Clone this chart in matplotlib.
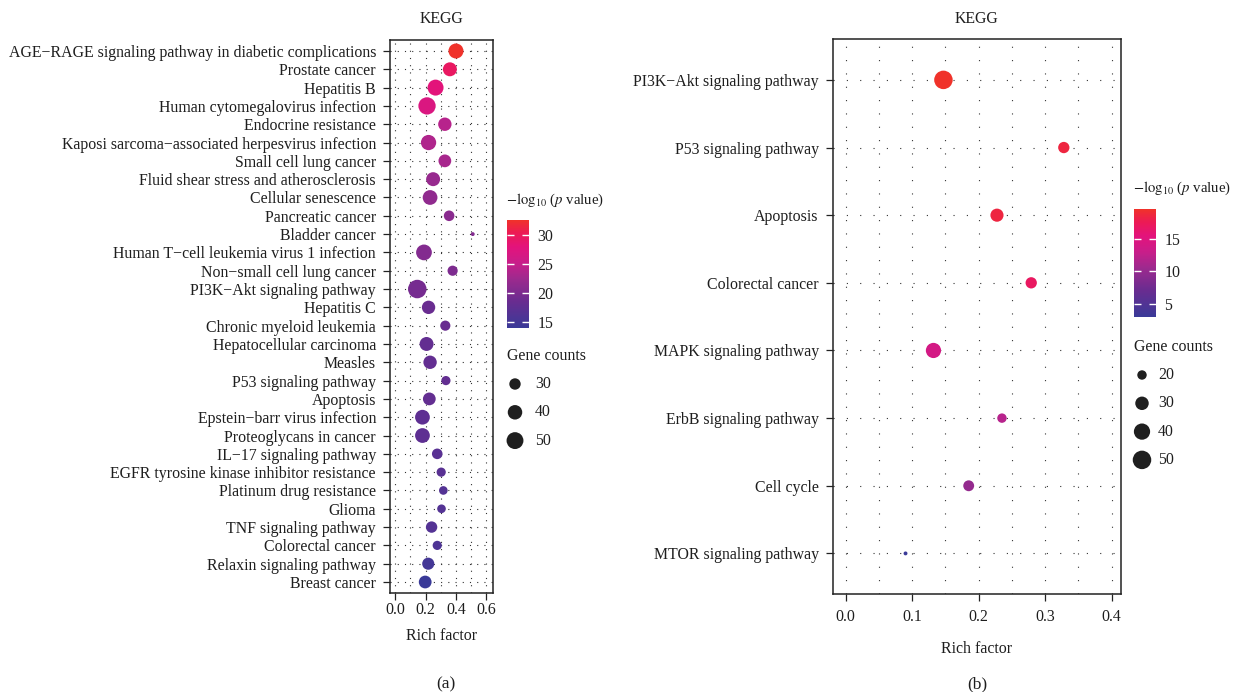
import numpy as np
import matplotlib
matplotlib.use("Agg")
import matplotlib.pyplot as plt
from matplotlib.colors import LinearSegmentedColormap

# ---------------- data ----------------
left_terms = [
    "AGE\u2212RAGE signaling pathway in diabetic complications",
    "Prostate cancer",
    "Hepatitis B",
    "Human cytomegalovirus infection",
    "Endocrine resistance",
    "Kaposi sarcoma\u2212associated herpesvirus infection",
    "Small cell lung cancer",
    "Fluid shear stress and atherosclerosis",
    "Cellular senescence",
    "Pancreatic cancer",
    "Bladder cancer",
    "Human T\u2212cell leukemia virus 1 infection",
    "Non\u2212small cell lung cancer",
    "PI3K\u2212Akt signaling pathway",
    "Hepatitis C",
    "Chronic myeloid leukemia",
    "Hepatocellular carcinoma",
    "Measles",
    "P53 signaling pathway",
    "Apoptosis",
    "Epstein\u2212barr virus infection",
    "Proteoglycans in cancer",
    "IL\u221217 signaling pathway",
    "EGFR tyrosine kinase inhibitor resistance",
    "Platinum drug resistance",
    "Glioma",
    "TNF signaling pathway",
    "Colorectal cancer",
    "Relaxin signaling pathway",
    "Breast cancer",
]
left_rich = [0.40, 0.36, 0.266, 0.21, 0.327, 0.22, 0.327, 0.25, 0.23, 0.355,
             0.51, 0.19, 0.378, 0.146, 0.22, 0.33, 0.207, 0.23, 0.334, 0.225,
             0.18, 0.18, 0.277, 0.303, 0.317, 0.305, 0.24, 0.277, 0.218, 0.198]
left_counts = [42, 38, 46, 52, 36, 43, 34, 38, 41, 28,
               20, 45, 27, 58, 36, 27, 38, 36, 25, 34,
               41, 41, 28, 25, 24, 24, 30, 25, 32, 34]
left_logp = [32.5, 29.5, 28.0, 27.0, 24.0, 23.5, 23.0, 22.0, 21.5, 21.0,
             20.5, 20.5, 20.0, 19.5, 18.5, 18.5, 18.0, 18.0, 18.0, 18.0,
             17.5, 17.5, 17.0, 17.0, 16.5, 16.5, 16.5, 16.0, 15.0, 14.0]
left_color_ticks = [15, 20, 25, 30]
left_size_breaks = [30, 40, 50]
left_xticks = [0.0, 0.2, 0.4, 0.6]

right_terms = [
    "PI3K\u2212Akt signaling pathway",
    "P53 signaling pathway",
    "Apoptosis",
    "Colorectal cancer",
    "MAPK signaling pathway",
    "ErbB signaling pathway",
    "Cell cycle",
    "MTOR signaling pathway",
]
right_rich = [0.147, 0.328, 0.2275, 0.279, 0.132, 0.235, 0.185, 0.09]
right_counts = [50, 24, 29, 24, 36, 20, 23, 15]
right_logp = [19.6, 18.5, 18.5, 17.0, 14.0, 12.0, 10.0, 3.0]
right_color_ticks = [5, 10, 15]
right_size_breaks = [20, 30, 40, 50]
right_xticks = [0.0, 0.1, 0.2, 0.3, 0.4]

# ---------------- style ----------------
W, H = 1234, 692
SERIF = ["Liberation Serif", "DejaVu Serif"]
plt.rcParams["font.family"] = SERIF
plt.rcParams["mathtext.fontset"] = "stix"
FS = 11.4
TXT = "#1e1e1e"

cmap = LinearSegmentedColormap.from_list(
    "kegg",
    [(0.00, "#3A3A98"), (0.25, "#6A2C90"), (0.45, "#9C2A8E"),
     (0.60, "#C81E8A"), (0.75, "#E3137C"), (0.88, "#EC1A55"),
     (1.00, "#F0322A")])

DMIN, DMAX = 3.9, 18.5  # point diameters in pixels (ggplot-like range)


def size_s(c, cmin, cmax):
    c = np.asarray(c, dtype=float)
    r = np.clip((c - cmin) / (cmax - cmin), 0, 1)
    d_px = DMIN + (DMAX - DMIN) * np.sqrt(r)
    d_pt = d_px * 72.0 / 100.0
    return d_pt ** 2


def fr(x0, y0, x1, y1):
    return [x0 / W, 1 - y1 / H, (x1 - x0) / W, (y1 - y0) / H]


fig = plt.figure(figsize=(W / 100, H / 100), dpi=100)


def panel(rect, terms, rich, counts, logp, xticks, xminor, xlim,
          dash, xpad, xlabelpad):
    ax = fig.add_axes(rect)
    n = len(terms)
    y = np.arange(n)
    cmin, cmax = min(counts), max(counts)
    vmin, vmax = min(logp), max(logp)
    ax.set_xlim(*xlim)
    ax.set_ylim(n - 1 + 0.6, -0.6)
    ax.set_xticks(xticks)
    ax.set_xticklabels([f"{t:.1f}" for t in xticks])
    ax.set_xticks(xminor, minor=True)
    ax.set_yticks(y)
    ax.set_yticklabels(terms)
    ax.grid(True, axis="x", which="both", color="#333333", lw=0.8,
            linestyle=(0, dash))
    ax.grid(True, axis="y", which="major", color="#333333", lw=0.8,
            linestyle=(0, dash))
    ax.set_axisbelow(True)
    sc = ax.scatter(rich, y, s=size_s(counts, cmin, cmax), c=logp, cmap=cmap,
                    vmin=vmin, vmax=vmax, edgecolors="none", zorder=3)
    ax.tick_params(axis="both", which="major", length=5, width=0.9,
                   color="#222222", labelsize=FS, labelcolor=TXT)
    ax.tick_params(axis="y", pad=5)
    ax.tick_params(axis="x", pad=xpad)
    ax.tick_params(axis="x", which="minor", length=0)
    for s in ax.spines.values():
        s.set_linewidth(1.1)
        s.set_color("#222222")
    ax.set_title("KEGG", fontsize=FS, color=TXT, pad=12)
    ax.set_xlabel("Rich factor", fontsize=FS, color=TXT,
                  labelpad=xlabelpad)
    return ax, sc, (cmin, cmax)


ax1, sc1, crange1 = panel(fr(390, 40, 493, 593), left_terms, left_rich,
                          left_counts, left_logp, left_xticks,
                          [0.1, 0.3, 0.5], (-0.033, 0.643), (1, 5.5), 1.5, 7)
ax2, sc2, crange2 = panel(fr(832.7, 39.3, 1121, 594), right_terms, right_rich,
                          right_counts, right_logp, right_xticks,
                          [0.05, 0.15, 0.25, 0.35], (-0.0195, 0.414),
                          (1, 11), 6, 11)


def colorbar(sc, rect, ticks, title_xy):
    cax = fig.add_axes(rect)
    cb = fig.colorbar(sc, cax=cax, ticks=ticks)
    cb.outline.set_visible(False)
    cax.tick_params(direction="in", color="white", length=5, width=1,
                    left=True, right=True, labelleft=False, labelright=True,
                    labelsize=FS, labelcolor=TXT, pad=6)
    fig.text(title_xy[0] / W, 1 - title_xy[1] / H,
             r"$-\mathrm{log}_{10}$ ($p$ value)", fontsize=10.6,
             color=TXT, va="center", ha="left")
    return cb


colorbar(sc1, fr(507, 220, 529, 328), left_color_ticks, (506, 200))
colorbar(sc2, fr(1134, 209, 1156, 317), right_color_ticks, (1133, 188))


def size_legend(breaks, crange, x0, title_y, first_y, step, label_dx):
    fig.text(x0 / W, 1 - title_y / H, "Gene counts", fontsize=FS,
             color=TXT, va="center", ha="left")
    lax = fig.add_axes([0, 0, 1, 1], facecolor="none")
    lax.set_xlim(0, W)
    lax.set_ylim(H, 0)
    lax.axis("off")
    ys = first_y + step * np.arange(len(breaks))
    lax.scatter(np.full(len(breaks), x0 + 8), ys,
                s=size_s(breaks, *crange), color="#1f1f1f",
                edgecolors="none")
    for yy, b in zip(ys, breaks):
        lax.text(x0 + label_dx, yy, str(b), fontsize=FS, color=TXT,
                 va="center", ha="left")


size_legend(left_size_breaks, crange1, 507, 356, 384, 28.3, 28)
size_legend(right_size_breaks, crange2, 1134, 347, 375, 28.3, 24)

fig.text(446 / W, 1 - 684 / H, "(a)", fontsize=12.5, ha="center",
         va="center", color=TXT)
fig.text(977 / W, 1 - 684 / H, "(b)", fontsize=12.5, ha="center",
         va="center", color=TXT)

fig.savefig("out.png", dpi=100)
